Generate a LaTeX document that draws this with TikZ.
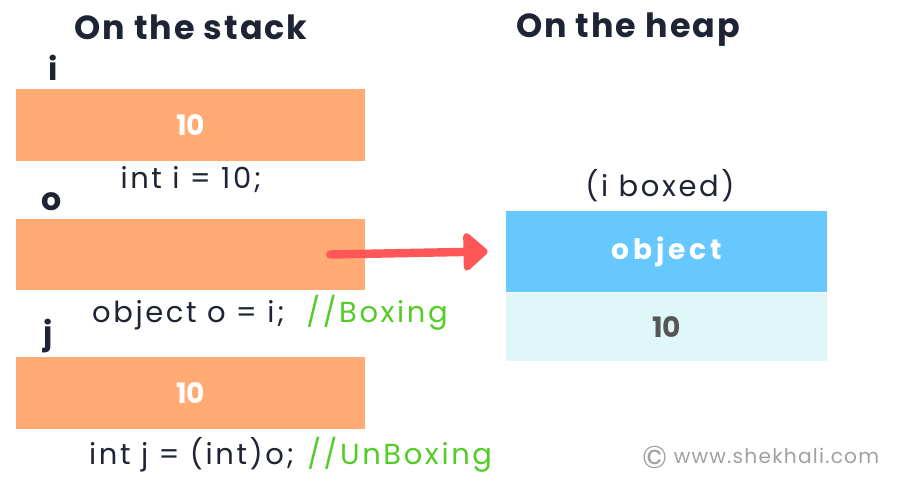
\documentclass[tikz,border=0pt]{standalone}
\usepackage{fontspec}
\setmainfont{Poppins}
\newfontfamily\widefont[LetterSpace=6]{Poppins}
\newfontfamily\codefont[LetterSpace=9]{Poppins}
\newfontfamily\objfont[LetterSpace=14]{Poppins}
\usepackage{xcolor}
\usepackage{tikz}
\usetikzlibrary{arrows.meta, positioning}
\definecolor{stackorange}{RGB}{255, 171, 115}
\definecolor{heapblue}{RGB}{103, 199, 255}
\definecolor{heaplight}{RGB}{223, 247, 249}
\definecolor{textdark}{RGB}{30, 36, 51}
\definecolor{commentgreen}{RGB}{82, 204, 38}
\definecolor{arrowred}{RGB}{255, 87, 87}
\definecolor{valuegray}{RGB}{85, 85, 85}
\definecolor{sitegray}{RGB}{160, 160, 160}

\tikzset{
    stackbox/.style={fill=stackorange, minimum width=6.98cm, minimum height=1.44cm,
        inner sep=0pt, text=white, font=\fontsize{16}{19}\selectfont\bfseries},
    heapbox/.style={minimum width=6.42cm, inner sep=0pt,
        font=\fontsize{16}{19}\selectfont\bfseries},
    title/.style={text=textdark, font=\fontsize{19}{23}\selectfont\bfseries\widefont\bfseries},
    varname/.style={text=textdark, anchor=base, font=\fontsize{18}{22}\selectfont\bfseries},
    codeline/.style={text=textdark, font=\fontsize{16.5}{20}\selectfont\codefont}
}

\begin{document}
\begin{tikzpicture}[x=0.02cm, y=-0.02cm]
    \useasboundingbox (0,0) rectangle (897,477);

    % titles
    \node[title] (stacktitle) at (191,27) {On the stack};
    \node[title] (heaptitle) at (628,30) {On the heap};

    % stack
    \node[varname] (iname) at (53,80) {i};
    \node[stackbox] (ibox) at (190.5,125) {10};
    \node[codeline] (icode) at (191,180) {int i = 10;};

    \node[varname] (oname) at (52,210) {o};
    \node[stackbox] (obox) at (190.5,254.5) {};
    \node[codeline, anchor=west] (ocode) at (86,313)
        {object o = i;\hspace{0.75em}{\color{commentgreen}//Boxing}};

    \node[varname] (jname) at (48,344) {j};
    \node[stackbox] (jbox) at (190.5,393) {10};
    \node[codeline, anchor=west] (jcode) at (83,455)
        {int j = (int)o;\hspace{0.45em}{\color{commentgreen}//UnBoxing}};

    % heap
    \node[codeline] (boxedlbl) at (660,186) {(i boxed)};
    \node[heapbox, fill=heapblue, minimum height=1.62cm, text=white] (objhead) at (666.5,251.5)
        {\objfont\bfseries object};
    \node[heapbox, fill=heaplight, minimum height=1.36cm, text=valuegray,
        below=0pt of objhead] (objval) {10};

    % boxing arrow
    \draw[arrowred, line width=4.8pt, line cap=round,
        -{Triangle[round, length=0.52cm, width=0.88cm]}]
        ([xshift=-0.7cm]obox.east) -- ([xshift=-0.36cm]objhead.west);

    % watermark
    \node[anchor=base west, text=sitegray, font=\fontsize{11.5}{14}\selectfont\widefont] (site) at (636,463)
        {\smash{\fontsize{18}{18}\selectfont\raisebox{-3pt}{\textcopyright}}\ www.shekhali.com};
\end{tikzpicture}
\end{document}
